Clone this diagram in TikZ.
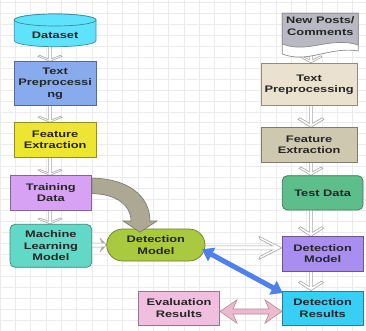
\documentclass[tikz,border=0pt]{standalone}
\usepackage{fontspec}
\newfontfamily\labfont{Liberation Sans}[FakeStretch=1.35]
\usetikzlibrary{arrows.meta}

\definecolor{cDataset}{HTML}{5FE3FD}
\definecolor{cTP}{HTML}{88ABEE}
\definecolor{cFE}{HTML}{EDE532}
\definecolor{cTD}{HTML}{D7A2F3}
\definecolor{cML}{HTML}{62D8C6}
\definecolor{cDM}{HTML}{A9C93F}
\definecolor{cNP}{HTML}{B8B9C2}
\definecolor{cTPb}{HTML}{EAE1CE}
\definecolor{cFEb}{HTML}{CEC8B0}
\definecolor{cTest}{HTML}{5DBE8B}
\definecolor{cDMb}{HTML}{A98DEF}
\definecolor{cDR}{HTML}{38CFF6}
\definecolor{cEval}{HTML}{F0BFE0}
\definecolor{cGrey}{HTML}{ADA894}
\definecolor{cBlue}{HTML}{4F80EE}
\definecolor{cPink}{HTML}{EDB9CF}

\pgfdeclarelayer{grid}
\pgfdeclarelayer{bg}
\pgfsetlayers{grid,bg,main}

\tikzset{
  lab/.style={font=\labfont\bfseries\fontsize{9.5}{11.3}\selectfont, text=black!85, align=center},
  box/.style={lab, draw=#1!62!black, fill=#1, line width=0.7pt, inner sep=0pt},
  hollow/.style={draw=black!35, fill=white, line width=0.6pt, line join=miter},
  gridline/.style={draw=black!8, line width=0.6pt},
}

% vertical hollow arrow: #1 tail node, #2 head node, #3 column coordinate,
% #4 head length, #5 head half width
\newcommand\vhollow[5]{%
  \coordinate (vS) at (#1.center -| #3);
  \coordinate (vT) at (#2.north -| #3);
  \draw[hollow] ([xshift=-1.6pt]vS) -- ([xshift=-1.6pt,yshift={0.5*#4}]vT)
    -- ([xshift={-0.85*#5},yshift={1.2*#4}]vT) -- ([xshift=-#5,yshift=#4]vT) -- (vT)
    -- ([xshift=#5,yshift=#4]vT) -- ([xshift={0.85*#5},yshift={1.2*#4}]vT)
    -- ([xshift=1.6pt,yshift={0.5*#4}]vT) -- ([xshift=1.6pt]vS) -- cycle;}

% horizontal hollow arrow pointing right: #1 tail, #2 tip, #3 head length, #4 head half width
\newcommand\hhollow[4]{%
  \draw[hollow] ([yshift=2pt]#1) -- ([xshift={-0.4*#3},yshift=2pt]#2)
    -- ([xshift={1pt-#3},yshift={#4-3pt}]#2) -- ([xshift=-#3,yshift=#4]#2) -- (#2)
    -- ([xshift=-#3,yshift=-#4]#2) -- ([xshift={1pt-#3},yshift={3pt-#4}]#2)
    -- ([xshift={-0.4*#3},yshift=-2pt]#2) -- ([yshift=-2pt]#1) -- cycle;}

\begin{document}
\begin{tikzpicture}[x=1pt,y=-1pt]
\useasboundingbox (0,0) rectangle (366,331);

% background grid
\begin{pgfonlayer}{grid}
  \fill[white] (0,0) rectangle (366,331);
  \foreach \i in {0,...,23} \draw[gridline] ({15.33*\i},0) -- ({15.33*\i},331);
  \foreach \j in {0,...,30} \draw[gridline] (0,{2.35+10.95*\j}) -- (366,{2.35+10.95*\j});
\end{pgfonlayer}

\coordinate (colL) at (50,0);
\coordinate (colR) at (311,0);

% ---- training pipeline (left) ----
\draw[fill=cDataset, draw=cDataset!62!black, line width=0.7pt]
  (14.3,20) -- (14.3,40.7) arc[start angle=180, end angle=0, x radius=40.85, y radius=6]
  -- (96,20) arc[start angle=360, end angle=180, x radius=40.85, y radius=6] -- cycle;
\draw[fill=cDataset, draw=cDataset!62!black, line width=0.7pt]
  (55.15,20) ellipse[x radius=40.85, y radius=6];
\node[lab] (ds) at (55.15,35) {Dataset};

\node[box=cTP, minimum width=81.7pt, minimum height=44pt] (tp) at (55.15,83.7) {Text\\Preprocessi\\ng};
\node[box=cFE, minimum width=81.7pt, minimum height=34.6pt] (fe) at (55.15,140) {Feature\\Extraction};
\node[box=cTD, minimum width=81.7pt, minimum height=34.3pt] (td) at (50.85,192.85) {Training\\Data};
\node[box=cML, rounded corners=5pt, minimum width=81.7pt, minimum height=43pt] (ml) at (50.85,245.8) {Machine\\Learning\\Model};
\node[box=cDM, rounded corners=16pt, minimum width=98.3pt, minimum height=32pt] (dm) at (155.85,245) {Detection\\Model};

% ---- detection pipeline (right) ----
\draw[fill=white, draw=black!45, line width=0.7pt]
  (282.3,13.3) -- (282.3,54) .. controls (308,64) and (330,46) .. (358.3,51) -- (358.3,13.3) -- cycle;
\draw[fill=cNP, draw=black!45, line width=0.7pt]
  (282.3,13.3) -- (282.3,44) .. controls (308,54) and (330,36) .. (358.3,45) -- (358.3,13.3) -- cycle;
\node[lab] (np) at (320.3,26) {New Posts/\\Comments};

\node[box=cTPb, minimum width=95.7pt, minimum height=42.4pt] (tp2) at (309.15,84.5) {Text\\Preprocessing};
\node[box=cFEb, minimum width=95.7pt, minimum height=34.6pt] (fe2) at (309.15,145) {Feature\\Extraction};
\node[box=cTest, rounded corners=5pt, minimum width=80.7pt, minimum height=34.3pt] (test) at (322.65,192.85) {Test Data};
\node[box=cDMb, minimum width=80.7pt, minimum height=34.3pt] (dm2) at (322.65,253.85) {Detection\\Model};
\node[box=cDR, minimum width=80.7pt, minimum height=34pt] (dres) at (322.65,308) {Detection\\Results};
\node[box=cEval, minimum width=81.4pt, minimum height=34pt] (ev) at (179,308) {Evaluation\\Results};

% ---- hollow flow arrows ----
\begin{pgfonlayer}{bg}
  \vhollow{ds}{tp}{colL}{5pt}{12pt}
  \vhollow{tp}{fe}{colL}{5pt}{12pt}
  \vhollow{fe}{td}{colL}{5pt}{12pt}
  \vhollow{td}{ml}{colL}{5pt}{12pt}
  \vhollow{np}{tp2}{colR}{6pt}{11pt}
  \vhollow{tp2}{fe2}{colR}{8pt}{13pt}
  \vhollow{fe2}{test}{colR}{7pt}{12pt}
  \vhollow{test}{dm2}{colR}{8pt}{12.5pt}
  \vhollow{dm2}{dres}{colR}{8pt}{12.5pt}
  \hhollow{ml.center}{dm.west}{6pt}{6.5pt}
  \coordinate (hT) at ([yshift=6pt]dm2.west);
  \coordinate (hS) at (dm.center |- hT);
  \hhollow{hS}{hT}{23pt}{11.5pt}
\end{pgfonlayer}

% ---- curved arrow: training data into detection model ----
\coordinate (g1) at ([yshift=-2.8pt]td.north east);
\coordinate (g2) at ([yshift=-18.3pt]td.north east);
\coordinate (gt) at ([xshift=-15.85pt,yshift=-3.5pt]dm.north);
\draw[fill=cGrey, draw=cGrey!70!black, line width=0.6pt, line join=miter]
  (g1) .. controls (128,178.5) and (150,196) .. (150,221) -- (157,221) -- (gt)
  -- (123,221) -- (131,221) .. controls (131,205) and (116,194) .. (g2) -- cycle;

% ---- blue link between detection model and results ----
\coordinate (b1) at ([xshift=-3.3pt,yshift=-4.3pt]dm.east);
\coordinate (b2) at ([xshift=0.7pt,yshift=-2.3pt]dres.north west);
\draw[cBlue, line width=5pt, {Triangle[length=11pt,width=15pt]}-{Triangle[length=11pt,width=15pt]}] (b1) -- (b2);

% ---- pink double arrow between evaluation and detection results ----
\coordinate (pl) at ([yshift=-3.5pt]ev.east);
\coordinate (pr) at ([yshift=-3.5pt]dres.west);
\draw[fill=cPink, draw=cPink!75!black, line width=0.6pt, line join=miter]
  (pl) -- ([xshift=17pt,yshift=11.7pt]pl) -- ([xshift=13pt,yshift=2.5pt]pl)
  -- ([xshift=-13pt,yshift=2.5pt]pr) -- ([xshift=-17pt,yshift=11.7pt]pr) -- (pr)
  -- ([xshift=-17pt,yshift=-11.7pt]pr) -- ([xshift=-13pt,yshift=-2.5pt]pr)
  -- ([xshift=13pt,yshift=-2.5pt]pl) -- ([xshift=17pt,yshift=-11.7pt]pl) -- cycle;
\end{tikzpicture}
\end{document}
